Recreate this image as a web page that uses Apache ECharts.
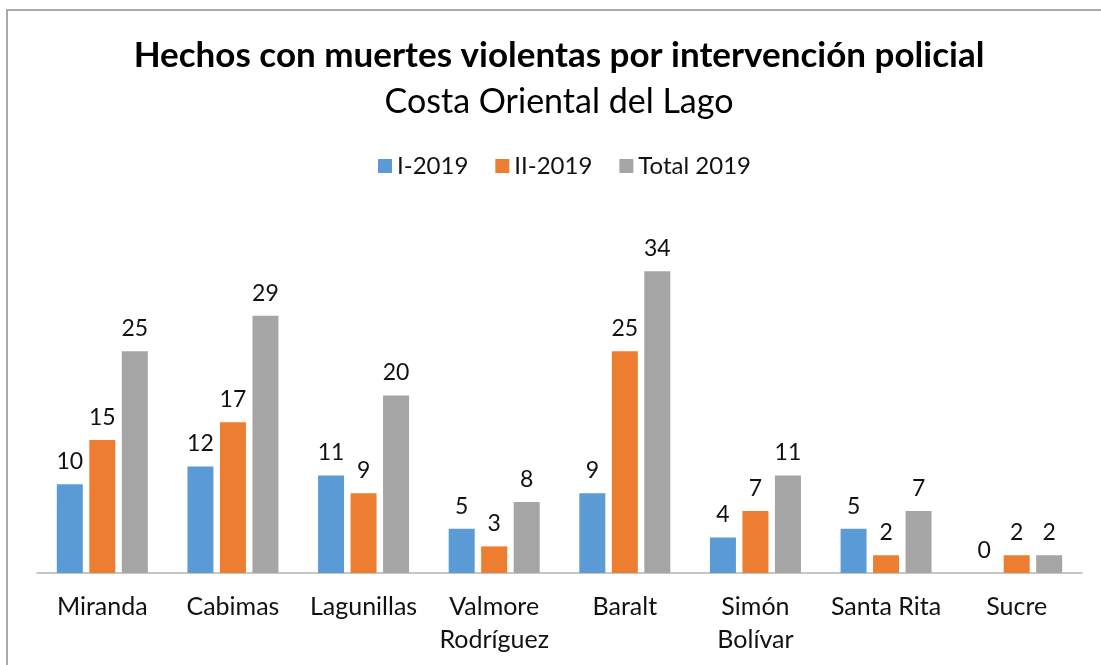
<!DOCTYPE html>
<html>
<head>
<meta charset="utf-8">
<script src="https://cdn.jsdelivr.net/npm/echarts@6/dist/echarts.min.js"></script>
<style>
  html, body { margin: 0; padding: 0; background: #fff; overflow: hidden; }
  #chart { width: 1101px; height: 665px; }
</style>
</head>
<body>
<div id="chart"></div>
<script>
// datos del gráfico
const categories = ["Miranda", "Cabimas", "Lagunillas", "Valmore\nRodríguez", "Baralt", "Simón\nBolívar", "Santa Rita", "Sucre"];
const semestre1 = [10, 12, 11, 5, 9, 4, 5, 0];
const semestre2 = [15, 17, 9, 3, 25, 7, 2, 2];
const total2019 = [25, 29, 20, 8, 34, 11, 7, 2];
const seriesNames = ["I-2019", "II-2019", "Total 2019"];
const colors = ["#5B9BD5", "#ED7D31", "#A5A5A5"];

const FONT = "Lato";

const chart = echarts.init(document.getElementById("chart"));

function barSeries(name, data, color) {
  return {
    name: name,
    type: "bar",
    data: data,
    barWidth: 26,
    barGap: "25%",
    itemStyle: { color: color },
    label: {
      show: true,
      position: "top",
      distance: 11,
      color: "#111",
      fontFamily: FONT,
      fontSize: 23
    }
  };
}

const option = {
  backgroundColor: "#fff",
  animation: false,
  color: colors,
  title: [
    {
      text: "Hechos con muertes violentas por intervención policial",
      left: 554,
      top: 33,
      textAlign: "center",
      textStyle: { fontFamily: FONT, fontWeight: "bold", fontSize: 35, color: "#000" }
    },
    {
      text: "Costa Oriental del Lago",
      left: 554,
      top: 80,
      textAlign: "center",
      textStyle: { fontFamily: FONT, fontWeight: "normal", fontSize: 34, color: "#000" }
    }
  ],
  legend: {
    data: seriesNames,
    left: 373,
    top: 149,
    icon: "rect",
    itemWidth: 14,
    itemHeight: 14,
    itemGap: 27,
    textStyle: { fontFamily: FONT, fontSize: 24, color: "#111" }
  },
  grid: { left: 37, right: 19, top: 218, bottom: 92 },
  xAxis: {
    type: "category",
    data: categories,
    axisLine: { lineStyle: { color: "#B4B4B4", width: 1.5 } },
    axisTick: { show: false },
    axisLabel: {
      interval: 0,
      margin: 17,
      color: "#111",
      fontFamily: FONT,
      fontSize: 25,
      lineHeight: 33
    }
  },
  yAxis: {
    type: "value",
    min: 0,
    max: 40,
    show: false
  },
  graphic: [
    {
      type: "rect",
      shape: { x: 7, y: 10, width: 1200, height: 800 },
      style: { fill: "none", stroke: "#ABABAB", lineWidth: 2 },
      silent: true
    }
  ],
  series: [
    barSeries(seriesNames[0], semestre1, colors[0]),
    barSeries(seriesNames[1], semestre2, colors[1]),
    barSeries(seriesNames[2], total2019, colors[2])
  ]
};

chart.setOption(option);
</script>
</body>
</html>
